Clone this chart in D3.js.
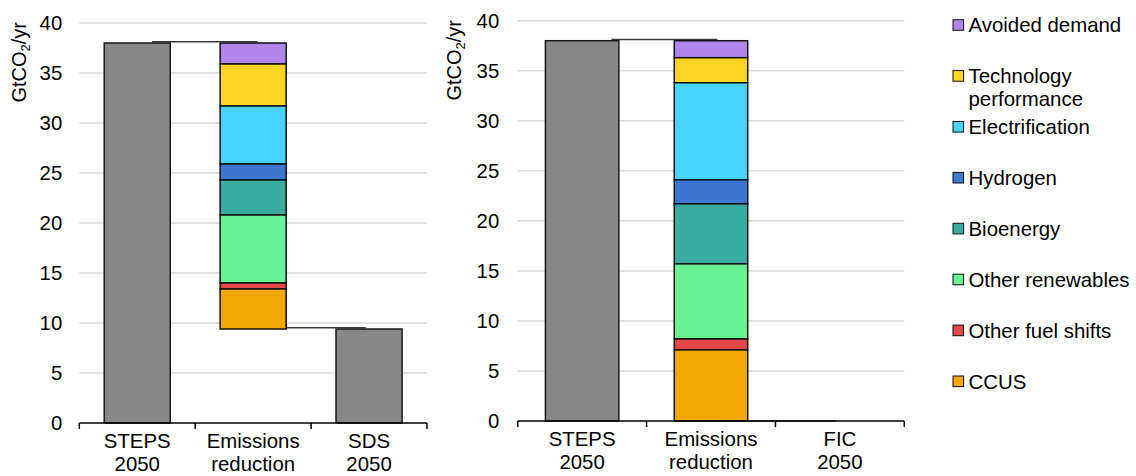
<!DOCTYPE html>
<html>
<head>
<meta charset="utf-8">
<script src="https://cdn.jsdelivr.net/npm/d3@7"></script>
<style>
  html, body { margin: 0; padding: 0; background: #fff; }
  svg { display: block; font-family: "Liberation Sans", Arial, sans-serif; }
</style>
</head>
<body>
<script>
// ---------------- DATA ----------------
const leftCategories = ["STEPS\n2050", "Emissions\nreduction", "SDS\n2050"];
const rightCategories = ["STEPS\n2050", "Emissions\nreduction", "FIC\n2050"];
const levers = ["Avoided demand", "Technology\nperformance", "Electrification", "Hydrogen",
                "Bioenergy", "Other renewables", "Other fuel shifts", "CCUS"];
const leverColors = ["#b085eb", "#fbd523", "#48d3fe", "#3e77d1", "#37ac9f", "#69f293", "#e2474a", "#f1a800"];
// reductions, top of stack first (GtCO2/yr)
const sdsReductions = [2.1, 4.2, 5.8, 1.6, 3.5, 6.8, 0.6, 4.0];
const ficReductions = [1.7, 2.5, 9.7, 2.4, 6.0, 7.5, 1.1, 7.1];
const stepsLeft = 38.0, sdsEnd = 9.4;
const stepsRight = 38.0, ficEnd = 0.0;
const yTicks = [0, 5, 10, 15, 20, 25, 30, 35, 40];

// ---------------- LAYOUT ----------------
const W = 1136, H = 476;
const FONT = 20.4;
const svg = d3.select("body").append("svg").attr("width", W).attr("height", H);

const panels = [
  { cats: leftCategories, start: stepsLeft, red: sdsReductions, end: sdsEnd,
    x0: 79.3, x1: 427, yBase: 423, yTop: 23, labelX: 25.5, labelY: 22, tickPad: 17,
    conn: [[14.8, 4.5], [7.2, -3.3]] },
  { cats: rightCategories, start: stepsRight, red: ficReductions, end: ficEnd,
    x0: 517.7, x1: 904.3, yBase: 421, yTop: 20.7, labelX: 461, labelY: 20, tickPad: 18.4,
    conn: [[29.5, 6.5], [7.2, -3.3]] }
];

panels.forEach(p => {
  const g = svg.append("g");
  const x = d3.scaleBand().domain(p.cats).range([p.x0, p.x1]).paddingInner(0.43).paddingOuter(0.215);
  const y = d3.scaleLinear().domain([0, 40]).range([p.yBase, p.yTop]);
  const step = x.step(), bw = x.bandwidth();
  const center = c => x(c) + bw / 2;

  // gridlines
  g.append("g").selectAll("line").data(yTicks.filter(t => t > 0)).join("line")
    .attr("x1", p.x0).attr("x2", p.x1)
    .attr("y1", d => y(d)).attr("y2", d => y(d))
    .attr("stroke", "#d9d9d9").attr("stroke-width", 1.5);

  // y axis labels
  const ya = g.append("g").attr("transform", `translate(${p.x0},0)`)
    .call(d3.axisLeft(y).tickValues(yTicks).tickSize(0).tickPadding(p.tickPad));
  ya.select(".domain").remove();
  ya.selectAll("text").attr("font-size", FONT).attr("font-family", "Liberation Sans, Arial, sans-serif").attr("fill", "#000");

  // y axis title
  const yl = g.append("text")
    .attr("transform", `translate(${p.labelX},${p.labelY}) rotate(-90)`)
    .attr("text-anchor", "end").attr("font-size", 20).attr("fill", "#000");
  yl.append("tspan").text("GtCO");
  yl.append("tspan").text("2").attr("font-size", 13).attr("dy", 4);
  yl.append("tspan").text("/yr").attr("dy", -4);

  // connectors
  const connVals = [p.start, p.end];
  connVals.forEach((v, i) => {
    const [d1, d2] = p.conn[i];
    const yy = y(v) - (v > 0 ? 1.2 : 0);
    g.append("line")
      .attr("x1", center(p.cats[i]) + d1).attr("x2", center(p.cats[i + 1]) + d2)
      .attr("y1", yy).attr("y2", yy)
      .attr("stroke", "#3a3a3a").attr("stroke-width", 1.6);
  });

  // total bars
  const totals = [{ c: p.cats[0], v: p.start }, { c: p.cats[2], v: p.end }];
  g.append("g").selectAll("rect").data(totals).join("rect")
    .attr("x", d => x(d.c)).attr("width", bw)
    .attr("y", d => y(d.v)).attr("height", d => y(0) - y(d.v))
    .attr("fill", "#878787").attr("stroke", "#1a1a1a").attr("stroke-width", 1.5);

  // stacked reduction bar
  let top = p.start;
  const segs = p.red.map((v, i) => {
    const s = { i, top, bottom: top - v };
    top -= v;
    return s;
  });
  g.append("g").selectAll("rect").data(segs).join("rect")
    .attr("x", x(p.cats[1])).attr("width", bw)
    .attr("y", d => y(d.top)).attr("height", d => y(d.bottom) - y(d.top))
    .attr("fill", d => leverColors[d.i]).attr("stroke", "#111").attr("stroke-width", 1.5);

  // x axis line & boundary ticks
  g.append("line").attr("x1", p.x0).attr("x2", p.x1)
    .attr("y1", y(0)).attr("y2", y(0)).attr("stroke", "#000").attr("stroke-width", 1.5);
  const bounds = d3.range(p.cats.length + 1).map(i => p.x0 + i * step);
  g.append("g").selectAll("line").data(bounds).join("line")
    .attr("x1", d => d).attr("x2", d => d)
    .attr("y1", y(0)).attr("y2", y(0) + 6)
    .attr("stroke", "#000").attr("stroke-width", 1.5);

  // category labels
  p.cats.forEach(c => {
    const t = g.append("text").attr("text-anchor", "middle").attr("font-size", FONT).attr("fill", "#000");
    c.split("\n").forEach((ln, k) => {
      t.append("tspan").attr("x", center(c)).attr("y", y(0) + 25 + k * 22.5).text(ln);
    });
  });
});

// ---------------- LEGEND ----------------
const lg = svg.append("g");
const legY0 = 25, legStep = 50.9;
levers.forEach((name, i) => {
  const cy = legY0 + i * legStep;
  lg.append("rect").attr("x", 953).attr("y", cy - 5.3).attr("width", 10.6).attr("height", 10.6)
    .attr("fill", leverColors[i]).attr("stroke", "#111").attr("stroke-width", 1);
  const t = lg.append("text").attr("font-size", FONT).attr("fill", "#000");
  name.split("\n").forEach((ln, k) => {
    t.append("tspan").attr("x", 968.5).attr("y", cy + 7.2 + k * 23.2).text(ln);
  });
});
</script>
</body>
</html>
